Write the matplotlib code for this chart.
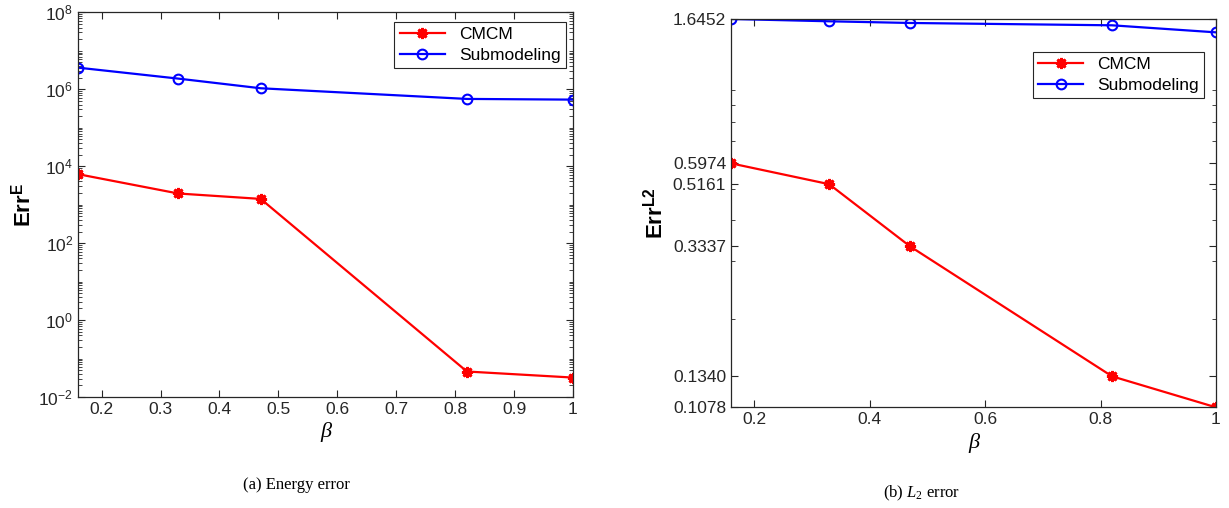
import matplotlib
matplotlib.use("Agg")
import matplotlib.pyplot as plt
import numpy as np
from matplotlib.ticker import LogLocator, NullFormatter, FormatStrFormatter

plt.rcParams["font.family"] = "Liberation Sans"
plt.rcParams["mathtext.fontset"] = "custom"
plt.rcParams["mathtext.rm"] = "Liberation Sans"
plt.rcParams["mathtext.it"] = "Liberation Serif:italic"

# data
beta = [0.16, 0.33, 0.47, 0.82, 1.0]
energy_cmcm = [6.2e3, 1.95e3, 1.41e3, 0.046, 0.032]
energy_sub = [3.64e6, 1.89e6, 1.06e6, 5.6e5, 5.37e5]
l2_cmcm = [0.5974, 0.5161, 0.3337, 0.1340, 0.1078]
l2_sub = [1.6452, 1.619, 1.600, 1.574, 1.498]
energy_exps = [-2, 0, 2, 4, 6, 8]
l2_ticks = [0.1078, 0.1340, 0.3337, 0.5161, 0.5974, 1.6452]
x_ticks_a = [0.2, 0.3, 0.4, 0.5, 0.6, 0.7, 0.8, 0.9, 1.0]
x_ticks_b = [0.2, 0.4, 0.6, 0.8, 1.0]

# matlab-like '*' marker: 8-armed asterisk
red_style = dict(color="red", marker=(8, 2, 0), markersize=8, markeredgewidth=2.0, linewidth=1.6)
blue_style = dict(color="blue", marker="o", markersize=7, markerfacecolor="none",
                  markeredgewidth=1.5, linewidth=1.6)

fig = plt.figure(figsize=(12.29, 5.08), dpi=100)
ax1 = fig.add_axes([0.0635, 0.2185, 0.4027, 0.7573])
ax2 = fig.add_axes([0.5948, 0.1982, 0.3946, 0.7644])


def style_axes(ax):
    for s in ax.spines.values():
        s.set_color("#262626")
        s.set_linewidth(0.9)
    ax.tick_params(which="both", direction="in", top=True, right=True,
                   colors="#262626", labelsize=12.5)
    ax.tick_params(which="major", length=5)
    ax.tick_params(which="minor", length=3)
    ax.yaxis.set_minor_formatter(NullFormatter())


# (a) energy error
ax1.plot(beta, energy_cmcm, label="CMCM", **red_style)
ax1.plot(beta, energy_sub, label="Submodeling", **blue_style)
ax1.set_yscale("log")
ax1.set_xlim(0.16, 1.0)
ax1.set_ylim(1e-2, 1e8)
ax1.set_yticks([10.0 ** e for e in energy_exps])
ax1.set_yticklabels([r"$\mathregular{10^{%d}}$" % e for e in energy_exps])
ax1.yaxis.set_minor_locator(LogLocator(base=10, subs=np.arange(1, 10), numticks=100))
ax1.set_xticks(x_ticks_a)
ax1.xaxis.set_major_formatter(FormatStrFormatter("%g"))
style_axes(ax1)
ax1.set_xlabel("β", fontsize=16, family="Liberation Serif", style="italic", labelpad=4)
ax1.set_ylabel(r"Err$^\mathregular{E}$", fontsize=16, fontweight="bold", labelpad=2)
leg1 = ax1.legend(loc="upper right", bbox_to_anchor=(0.985, 0.975), fontsize=12.5,
                  fancybox=False, edgecolor="#262626", framealpha=1,
                  handlelength=2.6, borderpad=0.3, labelspacing=0.3, borderaxespad=0)
leg1.get_frame().set_linewidth(0.8)

# (b) L2 error
ax2.plot(beta, l2_cmcm, label="CMCM", **red_style)
ax2.plot(beta, l2_sub, label="Submodeling", **blue_style)
ax2.set_yscale("log")
ax2.set_xlim(0.16, 1.0)
ax2.set_ylim(l2_ticks[0], l2_ticks[-1])
ax2.set_yticks(l2_ticks)
ax2.set_yticklabels(["%.4f" % v for v in l2_ticks])
ax2.yaxis.set_minor_locator(LogLocator(base=10, subs=np.arange(1, 10), numticks=100))
ax2.set_xticks(x_ticks_b)
ax2.xaxis.set_major_formatter(FormatStrFormatter("%g"))
style_axes(ax2)
ax2.set_xlabel("β", fontsize=16, family="Liberation Serif", style="italic", labelpad=4)
ax2.set_ylabel(r"Err$^\mathregular{L2}$", fontsize=16, fontweight="bold", labelpad=4)
leg2 = ax2.legend(loc="upper right", bbox_to_anchor=(0.975, 0.915), fontsize=12.5,
                  fancybox=False, edgecolor="#262626", framealpha=1,
                  handlelength=2.6, borderpad=0.3, labelspacing=0.3, borderaxespad=0)
leg2.get_frame().set_linewidth(0.8)

fig.text(296 / 1229, 1 - 485 / 508, "(a) Energy error", ha="center", va="center",
         family="Liberation Serif", fontsize=12)
fig.text(922 / 1229, 1 - 493 / 508, r"(b) $L_\mathregular{2}$ error", ha="center", va="center",
         family="Liberation Serif", fontsize=12)

fig.savefig("out.png", dpi=100)
